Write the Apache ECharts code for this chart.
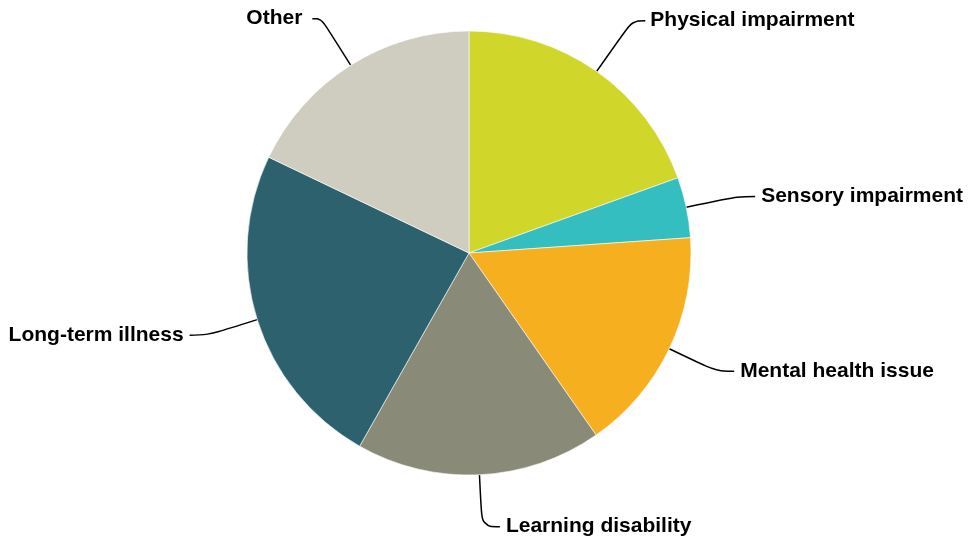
<!DOCTYPE html>
<html><head><meta charset="utf-8">
<script src="https://cdn.jsdelivr.net/npm/echarts@6/dist/echarts.min.js"></script>
<style>html,body{margin:0;padding:0;background:#fff}#c{width:969px;height:541px}</style>
</head><body><div id="c"></div>
<script>
const categories = ["Physical impairment","Sensory impairment","Mental health issue","Learning disability","Long-term illness","Other"];
const values = [19.5, 4.4, 16.4, 17.9, 23.9, 17.9];
const colors = ["#d0d62a","#35bec0","#f6af1f","#8a8a78","#2e616e","#cfcdbf"];
// per-slice label line tweaks (style only)
const lineTweaks = {
  "Physical impairment": {line:{length:62,length2:13}, label:{distanceToLabelLine:5}},
  "Other": {line:{length:55,length2:9}, label:{distanceToLabelLine:10}}
};
const chart = echarts.init(document.getElementById('c'), null, {renderer:'canvas'});
chart.setOption({
  animation:false,
  color: colors,
  series:[{
    type:'pie',
    center:[469,253],
    radius:[0,222],
    startAngle:90,
    clockwise:true,
    avoidLabelOverlap:false,
    itemStyle:{borderColor:'#fff',borderWidth:0.6},
    label:{show:true,color:'#000',fontFamily:'Liberation Sans, Arial, sans-serif',fontWeight:'bold',fontSize:21,distanceToLabelLine:6},
    labelLine:{show:true,length:52,length2:18,smooth:0.4,lineStyle:{color:'#000',width:1.5}},
    data: categories.map((n,i)=>{
      const d = {name:n,value:values[i]};
      const t = lineTweaks[n];
      if (t) { d.labelLine = t.line; d.label = t.label; }
      return d;
    })
  }]
});
</script></body></html>
